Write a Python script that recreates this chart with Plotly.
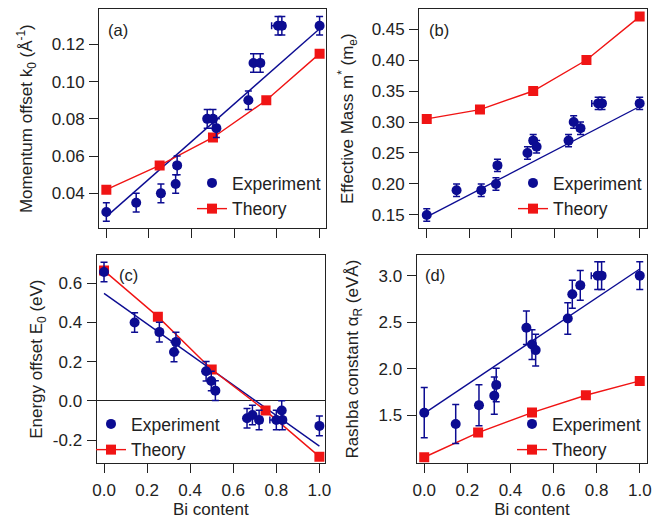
import plotly.graph_objects as go

# ---------------- data ----------------
# experiment x positions (Bi content) and x errors
exp_x = [0.0, 0.14, 0.256, 0.325, 0.332, 0.473, 0.50, 0.516, 0.666, 0.690, 0.722, 0.805, 0.823, 1.0]
exp_xerr = [0.0, 0.0, 0.015, 0.0, 0.015, 0.0, 0.015, 0.0, 0.0, 0.0, 0.015, 0.03, 0.015, 0.0]

theory_x = [0.0, 0.25, 0.5, 0.75, 1.0]
fit_x = [0.0, 1.0]

# (a) momentum offset
k0_exp = [0.030, 0.035, 0.040, 0.045, 0.055, 0.080, 0.080, 0.075, 0.090, 0.110, 0.110, 0.130, 0.130, 0.130]
k0_err = [0.005] * 14
k0_theory = [0.042, 0.055, 0.070, 0.090, 0.115]
k0_fit = [0.0275, 0.1284]

# (b) effective mass
m_exp = [0.150, 0.190, 0.190, 0.200, 0.230, 0.250, 0.270, 0.260, 0.270, 0.300, 0.290, 0.330, 0.330, 0.330]
m_err = [0.01] * 14
m_theory = [0.305, 0.320, 0.350, 0.400, 0.470]
m_fit = [0.147, 0.325]

# (c) energy offset
e_x = [0.0, 0.142, 0.257, 0.325, 0.334, 0.474, 0.498, 0.517, 0.664, 0.689, 0.720, 0.800, 0.825, 0.828, 1.0]
e_xerr = [0.0, 0.0, 0.015, 0.0, 0.015, 0.0, 0.0, 0.0, 0.0, 0.0, 0.015, 0.03, 0.0, 0.015, 0.0]
e_exp = [0.658, 0.400, 0.351, 0.249, 0.300, 0.151, 0.101, 0.052, -0.089, -0.072, -0.098, -0.098, -0.049, -0.098, -0.128]
e_err = [0.05] * 15
e_theory = [0.665, 0.430, 0.160, -0.050, -0.285]
e_fit = [0.549, -0.231]

# (d) Rashba constant
a_x = [0.0, 0.146, 0.254, 0.325, 0.334, 0.474, 0.50, 0.517, 0.666, 0.687, 0.724, 0.805, 0.823, 1.0]
a_xerr = [0.0, 0.0, 0.015, 0.0, 0.015, 0.0, 0.0, 0.0, 0.0, 0.0, 0.015, 0.03, 0.015, 0.0]
a_exp = [1.528, 1.407, 1.607, 1.711, 1.826, 2.440, 2.260, 2.200, 2.540, 2.800, 2.896, 3.000, 3.000, 3.000]
a_err = [0.27, 0.21, 0.22, 0.2, 0.18, 0.18, 0.16, 0.17, 0.17, 0.15, 0.16, 0.15, 0.15, 0.15]
a_theory = [1.049, 1.314, 1.529, 1.715, 1.869]
a_fit = [1.521, 3.072]

x_ticks = [0.0, 0.2, 0.4, 0.6, 0.8, 1.0]
x_ticktext = ["0.0", "0.2", "0.4", "0.6", "0.8", "1.0"]
ya_ticks = [0.04, 0.06, 0.08, 0.10, 0.12]
ya_text = ["0.04", "0.06", "0.08", "0.10", "0.12"]
yb_ticks = [0.15, 0.20, 0.25, 0.30, 0.35, 0.40, 0.45]
yb_text = ["0.15", "0.20", "0.25", "0.30", "0.35", "0.40", "0.45"]
yc_ticks = [-0.2, 0.0, 0.2, 0.4, 0.6]
yc_text = ["-0.2", "0.0", "0.2", "0.4", "0.6"]
yd_ticks = [1.5, 2.0, 2.5, 3.0]
yd_text = ["1.5", "2.0", "2.5", "3.0"]

# ---------------- style ----------------
BLUE = "#0c0c92"
RED = "#f01414"
FRAME = "#222222"
TXT = "#222222"
FONT = "Liberation Sans, Arial, sans-serif"

W, H = 669, 520

def dom_x(l, r):
    return [l / W, r / W]

def dom_y(t, b):
    return [1 - b / H, 1 - t / H]

panels = [
    dict(ax="", ay="", leg="legend", xd=dom_x(99.3, 326), yd=dom_y(9.3, 228),
         xr=[-0.033, 1.03], yr=[0.0214, 0.1388], yt=ya_ticks, ytt=ya_text,
         xs=exp_x, xe=exp_xerr, ys=k0_exp, ye=k0_err, th=k0_theory, fit=k0_fit,
         title="Momentum offset k<sub>0</sub> (Å<sup>-1</sup>)", lab="(a)", labx=0.03,
         xlab=False, legpos=(192, 165), ystand=14),
    dict(ax="2", ay="2", leg="legend2", xd=dom_x(419.3, 646.7), yd=dom_y(9.3, 228),
         xr=[-0.035, 1.033], yr=[0.129, 0.4818], yt=yb_ticks, ytt=yb_text,
         xs=exp_x, xe=exp_xerr, ys=m_exp, ye=m_err, th=m_theory, fit=m_fit,
         title="Effective Mass m<sup>*</sup> (m<sub>e</sub>)", lab="(b)", labx=0.033,
         xlab=False, legpos=(513, 165), ystand=13),
    dict(ax="3", ay="3", leg="legend3", xd=dom_x(96.7, 325), yd=dom_y(255, 463.3),
         xr=[-0.034, 1.026], yr=[-0.319, 0.7447], yt=yc_ticks, ytt=yc_text,
         xs=e_x, xe=e_xerr, ys=e_exp, ye=e_err, th=e_theory, fit=e_fit,
         title="Energy offset E<sub>0</sub> (eV)", lab="(c)", labx=0.088,
         xlab=True, legpos=(91, 406), ystand=5),
    dict(ax="4", ay="4", leg="legend4", xd=dom_x(416.7, 647.3), yd=dom_y(255, 463.3),
         xr=[-0.035, 1.035], yr=[0.984, 3.222], yt=yd_ticks, ytt=yd_text,
         xs=a_x, xe=a_xerr, ys=a_exp, ye=a_err, th=a_theory, fit=a_fit,
         title="Rashba constant α<sub>R</sub> (eVÅ)", lab="(d)", labx=0.029,
         xlab=True, legpos=(512, 406), ystand=15),
]

fig = go.Figure()
layout = dict(
    template="none",
    width=W, height=H,
    margin=dict(l=0, r=0, t=0, b=0, autoexpand=False),
    paper_bgcolor="white", plot_bgcolor="white",
    font=dict(family=FONT, size=17, color=TXT),
    annotations=[],
)

for p in panels:
    xa = "x" + p["ax"]
    ya = "y" + p["ay"]
    # fit line
    fig.add_trace(go.Scatter(x=fit_x, y=p["fit"], mode="lines", xaxis=xa, yaxis=ya,
                             line=dict(color=BLUE, width=1.4), showlegend=False,
                             hoverinfo="skip"))
    # theory
    fig.add_trace(go.Scatter(x=theory_x, y=p["th"], mode="lines+markers", xaxis=xa, yaxis=ya,
                             name="Theory", legend=p["leg"], legendrank=2,
                             line=dict(color=RED, width=1.4),
                             marker=dict(symbol="square", size=10, color=RED)))
    # experiment
    fig.add_trace(go.Scatter(x=p["xs"], y=p["ys"], mode="markers", xaxis=xa, yaxis=ya,
                             name="Experiment", legend=p["leg"], legendrank=1,
                             marker=dict(symbol="circle", size=10, color=BLUE),
                             error_y=dict(type="data", array=p["ye"], color=BLUE,
                                          thickness=1.5, width=3.5),
                             error_x=dict(type="data", array=p["xe"], color=BLUE,
                                          thickness=1.5, width=3.5)))

    xkey = "xaxis" + p["ax"]
    ykey = "yaxis" + p["ay"]
    xdict = dict(
        domain=p["xd"], range=p["xr"], anchor=ya, automargin=False,
        tickmode="array", tickvals=x_ticks, ticktext=x_ticktext,
        showticklabels=p["xlab"], ticks="outside", ticklen=9, tickwidth=1.3,
        tickcolor=FRAME, showline=True, linecolor=FRAME, linewidth=1.3, mirror=True,
        showgrid=False, zeroline=False, ticklabelstandoff=2,
        tickfont=dict(size=17, color=TXT),
    )
    if p["xlab"]:
        xdict["title"] = dict(text="Bi content", font=dict(size=17, color=TXT), standoff=3)
    layout[xkey] = xdict
    layout[ykey] = dict(
        domain=p["yd"], range=p["yr"], anchor=xa, automargin=False,
        tickmode="array", tickvals=p["yt"], ticktext=p["ytt"],
        ticks="outside", ticklen=9, tickwidth=1.3, tickcolor=FRAME,
        showline=True, linecolor=FRAME, linewidth=1.3, mirror=True,
        showgrid=False, ticklabelstandoff=1,
        zeroline=(p["lab"] == "(c)"), zerolinecolor=FRAME, zerolinewidth=1.3,
        tickfont=dict(size=17, color=TXT),
        title=dict(text=p["title"], font=dict(size=17, color=TXT), standoff=p["ystand"]),
    )
    lx, ly = p["legpos"]
    layout[p["leg"]] = dict(
        x=lx / W, y=1 - ly / H, xref="paper", yref="paper",
        xanchor="left", yanchor="top",
        bgcolor="rgba(0,0,0,0)", borderwidth=0,
        font=dict(size=17.5, color=TXT), itemwidth=30,
        tracegroupgap=0, traceorder="normal",
    )
    layout["annotations"].append(dict(
        text=p["lab"], xref=xa + " domain", yref=ya + " domain",
        x=p["labx"], y=0.955, xanchor="left", yanchor="top", showarrow=False,
        font=dict(size=16.5, color=TXT),
    ))

fig.update_layout(**layout)
fig.write_html("out.html", config={"displayModeBar": False},
               post_script="document.body.style.margin='0px';")
